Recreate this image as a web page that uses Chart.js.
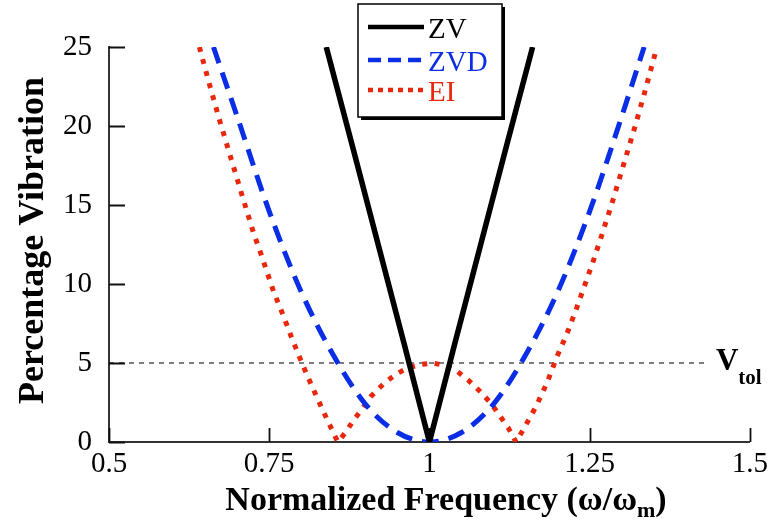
<!DOCTYPE html>
<html>
<head>
<meta charset="utf-8">
<script src="https://cdn.jsdelivr.net/npm/chart.js@4.4.1/dist/chart.umd.min.js"></script>
<style>
  html, body { margin: 0; padding: 0; background: #fff; }
  #wrap { width: 773px; height: 523px; }
</style>
</head>
<body>
<div id="wrap"><canvas id="vibChart" width="773" height="523"></canvas></div>
<script>
// values
const freqZV = [0.839, 0.88, 0.92, 0.96, 1.0, 1.04, 1.08, 1.12, 1.161];
const vibZV = [25, 18.7, 12.5, 6.3, 0, 6.3, 12.5, 18.7, 25];

const freqZVD = [0.663, 0.7, 0.75, 0.8, 0.85, 0.9, 0.95, 1.0, 1.05, 1.1, 1.15, 1.2, 1.25, 1.3, 1.335];
const vibZVD = [25, 20.6, 14.6, 9.5, 5.5, 2.4, 0.6, 0, 0.6, 2.4, 5.5, 9.5, 14.6, 20.6, 25];

const freqEI = [0.641, 0.657, 0.673, 0.690, 0.707, 0.725, 0.738, 0.757, 0.772, 0.786, 0.802, 0.818,
  0.836, 0.857, 0.869, 0.882, 0.895, 0.909, 0.929, 0.948, 0.967, 0.986, 1.005, 1.024, 1.044, 1.061,
  1.079, 1.096, 1.110, 1.123, 1.135, 1.146, 1.157, 1.167, 1.176, 1.184, 1.199, 1.215, 1.229, 1.243,
  1.256, 1.269, 1.287, 1.304, 1.321, 1.337, 1.355];
const vibEI = [25, 22.6, 20.3, 18.0, 15.7, 13.3, 11.8, 9.5, 8.0, 6.5, 4.9, 3.4,
  1.8, 0, 0.6, 1.4, 2.1, 2.9, 3.7, 4.3, 4.7, 4.9, 5.0, 4.85, 4.45, 3.9,
  3.2, 2.45, 1.65, 0.9, 0, 0.76, 1.56, 2.3, 3.1, 3.8, 5.4, 6.9, 8.4, 10.0,
  11.5, 13.1, 15.4, 17.7, 20.0, 22.3, 25];

// tolerance line
const freqTol = [0.5, 1.433];
const vibTol = [5, 5];

const xTicks = [0.5, 0.75, 1, 1.25, 1.5];
const yTicks = [0, 5, 10, 15, 20, 25];
const seriesNames = ['ZV', 'ZVD', 'EI'];

const SERIF = "'Liberation Serif', 'Times New Roman', serif";
const BLUE = '#0a2de6';
const RED = '#e8270c';

function toPoints(xs, ys) {
  return xs.map((x, i) => ({ x: x, y: ys[i] }));
}

// inward tick marks on both axes
const innerTicks = {
  id: 'innerTicks',
  beforeDatasetsDraw(chart) {
    const ctx = chart.ctx;
    const xs = chart.scales.x, ys = chart.scales.y;
    const area = chart.chartArea;
    ctx.save();
    ctx.strokeStyle = '#111';
    ctx.lineWidth = 1.8;
    ctx.beginPath();
    yTicks.forEach(v => {
      const py = Math.round(ys.getPixelForValue(v)) + 0.5;
      ctx.moveTo(area.left, py);
      ctx.lineTo(area.left + 16, py);
    });
    xTicks.forEach(v => {
      const px = Math.round(xs.getPixelForValue(v)) + 0.5;
      ctx.moveTo(px, area.bottom);
      ctx.lineTo(px, area.bottom - 14);
    });
    ctx.stroke();
    ctx.restore();
  }
};

// titles, V_tol label and boxed legend
const annotations = {
  id: 'annotations',
  afterDraw(chart) {
    const ctx = chart.ctx;
    const xs = chart.scales.x, ys = chart.scales.y;
    ctx.save();
    ctx.fillStyle = '#000';

    // y title
    ctx.save();
    ctx.translate(43, (chart.chartArea.top + chart.chartArea.bottom) / 2 - 4);
    ctx.rotate(-Math.PI / 2);
    ctx.font = 'bold 36px ' + SERIF;
    ctx.textAlign = 'center';
    ctx.textBaseline = 'alphabetic';
    ctx.fillText('Percentage Vibration', 0, 0);
    ctx.restore();

    // x title with subscript m
    const mainTxt = 'Normalized Frequency (\u03c9/\u03c9';
    ctx.font = 'bold 34px ' + SERIF;
    const w1 = ctx.measureText(mainTxt).width;
    const w3 = ctx.measureText(')').width;
    ctx.font = 'bold 22px ' + SERIF;
    const w2 = ctx.measureText('m').width;
    let x0 = 446 - (w1 + w2 + w3) / 2;
    const base = 510;
    ctx.textAlign = 'left';
    ctx.textBaseline = 'alphabetic';
    ctx.font = 'bold 34px ' + SERIF;
    ctx.fillText(mainTxt, x0, base);
    ctx.font = 'bold 22px ' + SERIF;
    ctx.fillText('m', x0 + w1, base + 7);
    ctx.font = 'bold 34px ' + SERIF;
    ctx.fillText(')', x0 + w1 + w2, base);

    // V_tol
    const tolY = ys.getPixelForValue(vibTol[1]);
    const tolX = xs.getPixelForValue(freqTol[1]) + 9;
    ctx.font = 'bold 31px ' + SERIF;
    ctx.fillText('V', tolX, tolY + 7);
    const vw = ctx.measureText('V').width;
    ctx.font = 'bold 21px ' + SERIF;
    ctx.fillText('tol', tolX + vw, tolY + 21);

    // legend box with drop shadow
    const bx = 358, by = 4, bw = 144, bh = 113;
    ctx.fillStyle = '#000';
    ctx.fillRect(bx + 3, by + 3, bw, bh);
    ctx.fillStyle = '#fff';
    ctx.fillRect(bx, by, bw, bh);
    ctx.strokeStyle = '#000';
    ctx.lineWidth = 1.5;
    ctx.strokeRect(bx, by, bw, bh);

    const rowsY = [27, 60, 90];
    const legendDash = [[], [13, 7], [5, 5]];
    seriesNames.forEach((name, i) => {
      const ds = chart.data.datasets[i];
      ctx.strokeStyle = ds.borderColor;
      ctx.lineWidth = 4.5;
      ctx.setLineDash(legendDash[i]);
      ctx.beginPath();
      ctx.moveTo(368, rowsY[i]);
      ctx.lineTo(424, rowsY[i]);
      ctx.stroke();
      ctx.setLineDash([]);
      ctx.fillStyle = ds.borderColor;
      ctx.font = '29px ' + SERIF;
      ctx.textBaseline = 'alphabetic';
      ctx.fillText(name, 428, rowsY[i] + 11);
    });
    ctx.restore();
  }
};

function drawChart() {
  const ctx = document.getElementById('vibChart').getContext('2d');
  new Chart(ctx, {
    type: 'line',
    data: {
      datasets: [
        { label: 'ZV', data: toPoints(freqZV, vibZV), borderColor: '#000', borderWidth: 5.5, tension: 0 },
        { label: 'ZVD', data: toPoints(freqZVD, vibZVD), borderColor: BLUE, borderWidth: 5,
          borderDash: [17, 10], cubicInterpolationMode: 'monotone' },
        { label: 'EI', data: toPoints(freqEI, vibEI), borderColor: RED, borderWidth: 5,
          borderDash: [5, 7.5], tension: 0 },
        { label: 'Vtol', data: toPoints(freqTol, vibTol), borderColor: '#000', borderWidth: 1,
          borderDash: [5, 5], tension: 0 }
      ]
    },
    options: {
      responsive: false,
      animation: false,
      elements: { point: { radius: 0, hoverRadius: 0 } },
      layout: { padding: { top: 47, right: 20, bottom: 0, left: 0 } },
      plugins: {
        legend: { display: false },
        tooltip: { enabled: false }
      },
      scales: {
        x: {
          type: 'linear',
          min: 0.5,
          max: 1.5,
          afterFit: s => { s.height = 81; },
          afterBuildTicks: s => { s.ticks = xTicks.map(v => ({ value: v })); },
          grid: { display: false, drawTicks: false },
          border: { display: true, color: '#333', width: 2 },
          ticks: {
            padding: 5,
            color: '#000',
            maxRotation: 0,
            font: { family: SERIF, size: 29 },
            callback: v => String(v)
          }
        },
        y: {
          type: 'linear',
          min: 0,
          max: 25,
          afterFit: s => { s.width = 109; },
          afterBuildTicks: s => { s.ticks = yTicks.map(v => ({ value: v })); },
          grid: { display: false, drawTicks: false },
          border: { display: true, color: '#333', width: 2 },
          ticks: {
            padding: 17,
            color: '#000',
            font: { family: SERIF, size: 29 },
            callback: v => String(v)
          }
        }
      }
    },
    plugins: [innerTicks, annotations]
  });
}

drawChart();
</script>
</body>
</html>
